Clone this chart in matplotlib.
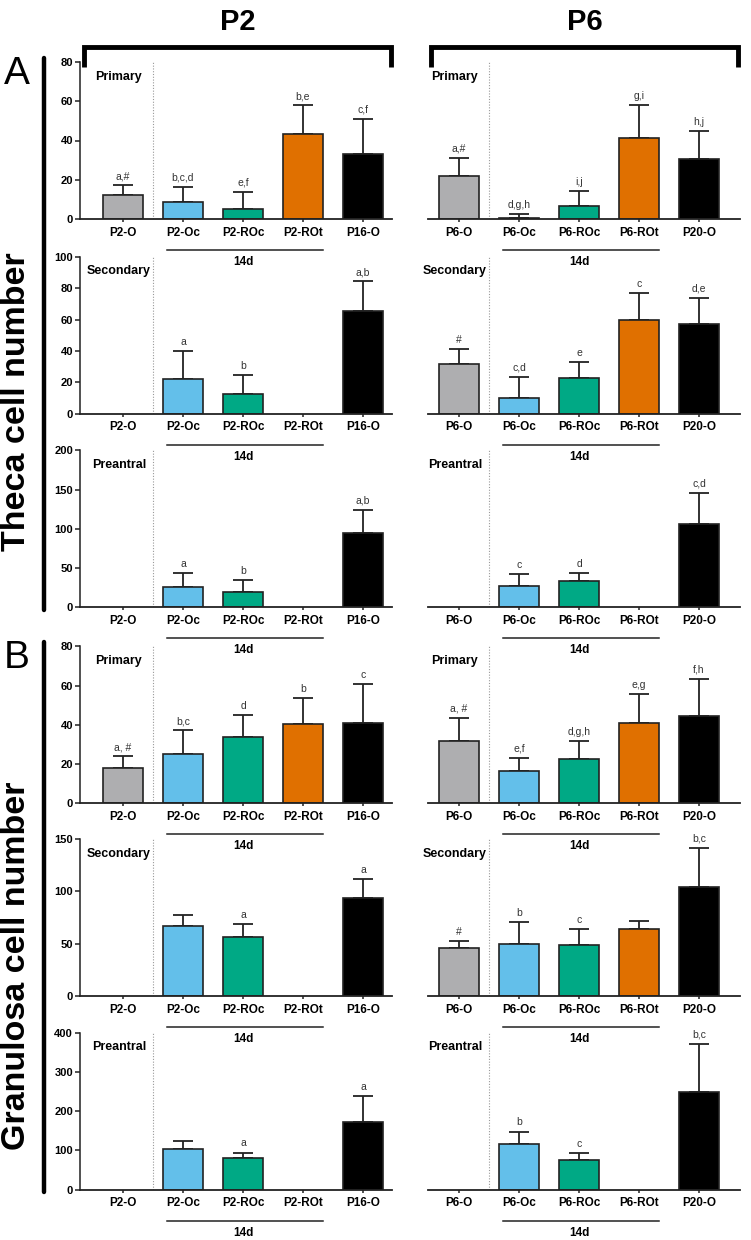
import numpy as np
import matplotlib
matplotlib.use("Agg")
import matplotlib.pyplot as plt
from matplotlib.lines import Line2D

plt.rcParams["font.family"] = ["Liberation Sans", "DejaVu Sans"]

W, H = 751, 1240

p2_groups = ["P2-O", "P2-Oc", "P2-ROc", "P2-ROt", "P16-O"]
p6_groups = ["P6-O", "P6-Oc", "P6-ROc", "P6-ROt", "P20-O"]
colors = ["#aeaeb0", "#63bfea", "#00a985", "#e07000", "#000000"]
nan = np.nan

# Theca cell number
theca_pri_p2 = [12.4, 8.5, 4.9, 43.3, 33.3]
theca_pri_p2_sd = [4.8, 7.8, 9.0, 14.6, 17.8]
theca_pri_p2_lab = ["a,#", "b,c,d", "e,f", "b,e", "c,f"]
theca_pri_p6 = [22.1, 0.3, 6.8, 41.1, 30.6]
theca_pri_p6_sd = [9.1, 2.2, 7.5, 17.1, 14.2]
theca_pri_p6_lab = ["a,#", "d,g,h", "i,j", "g,i", "h,j"]

theca_sec_p2 = [nan, 22.0, 12.3, nan, 65.3]
theca_sec_p2_sd = [nan, 17.7, 12.2, nan, 19.0]
theca_sec_p2_lab = ["", "a", "b", "", "a,b"]
theca_sec_p6 = [31.9, 9.9, 22.6, 60.0, 57.0]
theca_sec_p6_sd = [9.1, 13.4, 10.4, 16.7, 16.8]
theca_sec_p6_lab = ["#", "c,d", "e", "c", "d,e"]

theca_pre_p2 = [nan, 25.4, 19.5, nan, 94.9]
theca_pre_p2_sd = [nan, 17.8, 15.6, nan, 29.2]
theca_pre_p2_lab = ["", "a", "b", "", "a,b"]
theca_pre_p6 = [nan, 27.5, 33.9, nan, 105.5]
theca_pre_p6_sd = [nan, 14.8, 10.1, nan, 40.2]
theca_pre_p6_lab = ["", "c", "d", "", "c,d"]

# Granulosa cell number
gran_pri_p2 = [18.2, 25.1, 33.7, 40.6, 40.9]
gran_pri_p2_sd = [5.7, 12.1, 11.4, 13.0, 19.7]
gran_pri_p2_lab = ["a, #", "b,c", "d", "b", "c"]
gran_pri_p6 = [32.0, 16.3, 22.5, 41.1, 44.6]
gran_pri_p6_sd = [11.4, 6.7, 9.0, 14.5, 18.9]
gran_pri_p6_lab = ["a, #", "e,f", "d,g,h", "e,g", "f,h"]

gran_sec_p2 = [nan, 66.5, 56.0, nan, 93.3]
gran_sec_p2_sd = [nan, 10.7, 12.4, nan, 18.7]
gran_sec_p2_lab = ["", "", "a", "", "a"]
gran_sec_p6 = [46.2, 49.7, 49.1, 63.9, 104.4]
gran_sec_p6_sd = [6.4, 20.8, 14.8, 7.3, 37.4]
gran_sec_p6_lab = ["#", "b", "c", "", "b,c"]

gran_pre_p2 = [nan, 104.7, 80.3, nan, 172.2]
gran_pre_p2_sd = [nan, 18.6, 14.3, nan, 65.8]
gran_pre_p2_lab = ["", "", "a", "", "a"]
gran_pre_p6 = [nan, 117.7, 76.7, nan, 248.7]
gran_pre_p6_sd = [nan, 30.4, 16.8, nan, 123.5]
gran_pre_p6_lab = ["", "b", "c", "", "b,c"]

stages = ["Primary", "Secondary", "Preantral"]
ymax = [80, 100, 200, 80, 150, 400]
ystep = [20, 20, 50, 20, 50, 100]
rows = [
    (theca_pri_p2, theca_pri_p2_sd, theca_pri_p2_lab, theca_pri_p6, theca_pri_p6_sd, theca_pri_p6_lab),
    (theca_sec_p2, theca_sec_p2_sd, theca_sec_p2_lab, theca_sec_p6, theca_sec_p6_sd, theca_sec_p6_lab),
    (theca_pre_p2, theca_pre_p2_sd, theca_pre_p2_lab, theca_pre_p6, theca_pre_p6_sd, theca_pre_p6_lab),
    (gran_pri_p2, gran_pri_p2_sd, gran_pri_p2_lab, gran_pri_p6, gran_pri_p6_sd, gran_pri_p6_lab),
    (gran_sec_p2, gran_sec_p2_sd, gran_sec_p2_lab, gran_sec_p6, gran_sec_p6_sd, gran_sec_p6_lab),
    (gran_pre_p2, gran_pre_p2_sd, gran_pre_p2_lab, gran_pre_p6, gran_pre_p6_sd, gran_pre_p6_lab),
]

# pixel layout of the panels (zero line y of each row)
zero_y = [219, 413.7, 607.3, 803.3, 996, 1189.7]
panel_h = 157


def fx(x):
    return x / W


def fy(y):
    return 1 - y / H


fig = plt.figure(figsize=(W / 100, H / 100), dpi=100)


def draw_panel(ax, vals, sds, labs, groups, stage, ymx, step, left_axis):
    x = np.arange(len(groups))
    v = np.array(vals, dtype=float)
    e = np.array(sds, dtype=float)
    ax.set_facecolor("none")
    ax.bar(x, v, width=0.667, color=colors, edgecolor="#222222", linewidth=1.2, zorder=2)
    ax.errorbar(x, v, yerr=[np.zeros_like(e), e], fmt="none", ecolor="#222222",
                elinewidth=1.3, capsize=7, capthick=1.3, zorder=1, clip_on=False)
    for i, lab in enumerate(labs):
        if lab and not np.isnan(v[i]):
            ax.annotate(lab, (x[i], v[i] + e[i]), xytext=(0, 3), textcoords="offset points",
                        ha="center", va="bottom", fontsize=7.5, color="#333333")
    ax.set_ylim(0, ymx)
    ax.set_xticks(x)
    ax.set_xticklabels(groups, fontsize=8.5, fontweight="bold")
    ax.tick_params(axis="x", length=2.5, width=1.1, pad=3, color="#222222")
    for s in ["top", "right"]:
        ax.spines[s].set_visible(False)
    ax.spines["bottom"].set_linewidth(1.3)
    ax.spines["bottom"].set_color("#222222")
    if left_axis:
        ax.set_yticks(np.arange(0, ymx + 1, step))
        ax.tick_params(axis="y", length=3.6, width=1.1, pad=1.5, labelsize=8, color="#222222")
        for t in ax.get_yticklabels():
            t.set_fontweight("bold")
        ax.spines["left"].set_linewidth(1.1)
        ax.spines["left"].set_color("#222222")
    else:
        ax.spines["left"].set_visible(False)
        ax.set_yticks([])
    ax.axvline(0.5, ymin=0, ymax=1, color="#999999", lw=0.8, ls=(0, (1, 1.5)), zorder=0)
    ax.text(-0.07, 0.906, stage, transform=ax.get_xaxis_transform(), ha="center", va="center",
            fontsize=9, fontweight="bold")
    # 14d bar under the cultured groups
    ax.plot([0.73, 3.33], [-0.197, -0.197], transform=ax.get_xaxis_transform(),
            color="#222222", lw=1.1, clip_on=False)
    ax.text(2.0, -0.275, "14d", transform=ax.get_xaxis_transform(), ha="center", va="center",
            fontsize=8.5, fontweight="bold", zorder=5)


for r, row in enumerate(rows):
    b = fy(zero_y[r])
    h = panel_h / H
    axl = fig.add_axes([fx(80), b, fx(312), h])
    axl.set_xlim(-0.717, 4.483)
    draw_panel(axl, row[0], row[1], row[2], p2_groups, stages[r % 3], ymax[r], ystep[r], True)
    axr = fig.add_axes([fx(428), b, fx(312), h])
    axr.set_xlim(-0.517, 4.683)
    draw_panel(axr, row[3], row[4], row[5], p6_groups, stages[r % 3], ymax[r], ystep[r], False)

# top brackets with age headers
for x0, x1, name in [(84, 391, "P2"), (431, 738, "P6")]:
    fig.add_artist(Line2D([fx(x0), fx(x0), fx(x1), fx(x1)], [fy(67), fy(47), fy(47), fy(67)],
                          transform=fig.transFigure, color="black", lw=3.5,
                          solid_joinstyle="miter", solid_capstyle="butt"))
    fig.text(fx((x0 + x1) / 2), fy(22), name, ha="center", va="center", fontsize=21,
             fontweight="bold")

# side bars, panel letters and y titles
for y0, y1, yc, letter, title in [(58, 610, 402, "A", "Theca cell number"),
                                  (642, 1192, 966, "B", "Granulosa cell number")]:
    fig.add_artist(Line2D([fx(44), fx(44)], [fy(y0), fy(y1)], transform=fig.transFigure,
                          color="black", lw=3.2, solid_capstyle="round"))
    fig.text(fx(17), fy(y0 + 16), letter, ha="center", va="center", fontsize=28)
    fig.text(fx(17), fy(yc), title, ha="center", va="center", rotation=90,
             fontsize=24.5, fontweight="bold")

fig.savefig("out.png", dpi=100)
